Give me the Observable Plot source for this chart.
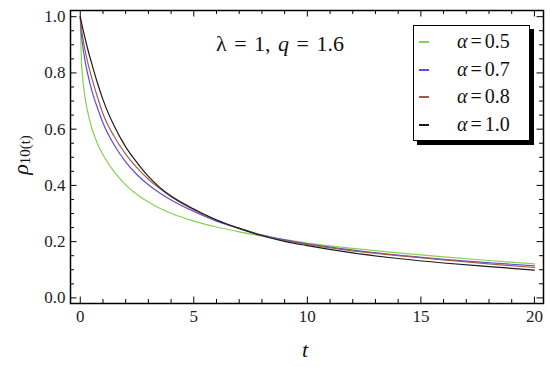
<!DOCTYPE html>
<html><head><meta charset="utf-8">
<script src="https://cdn.jsdelivr.net/npm/d3@7"></script>
<script src="https://cdn.jsdelivr.net/npm/@observablehq/plot@0.6"></script>
<style>
body{margin:0;background:#fff;}
#wrap{position:relative;width:550px;height:367px;font-family:"Liberation Serif","Times New Roman",serif;color:#111;}
#wrap svg{position:absolute;left:0;top:0;}
.ov{position:absolute;white-space:nowrap;line-height:1;}
#legend{position:absolute;left:413px;top:25px;width:115px;height:114px;border:1px solid #000;box-shadow:4px 4px 0 #000;background:#fff;}
.lrow{position:absolute;left:0;width:115px;height:24px;}
.lsw{position:absolute;left:5px;top:11px;width:10px;height:2px;}
.ltx{position:absolute;left:43px;top:1px;font-size:20px;line-height:1;}
#ylab{position:absolute;left:21px;top:155px;transform:translate(-50%,-50%) rotate(-90deg);white-space:nowrap;line-height:1;}
</style></head><body><div id="wrap"></div>
<script>
// ---- data ----
const tValues = [0, 0.05, 0.1, 0.2, 0.3, 0.5, 0.75, 1, 1.5, 2, 2.5, 3, 3.5, 4, 5, 6, 7, 8, 9, 10, 12, 14, 16, 18, 20];
const rhoAlpha05 = [1, 0.842, 0.787, 0.718, 0.672, 0.606, 0.550, 0.509, 0.448, 0.402, 0.368, 0.341, 0.319, 0.301, 0.273, 0.252, 0.235, 0.220, 0.207, 0.195, 0.176, 0.160, 0.146, 0.133, 0.121];
const rhoAlpha07 = [1, 0.937, 0.902, 0.848, 0.806, 0.740, 0.677, 0.622, 0.543, 0.484, 0.438, 0.402, 0.373, 0.348, 0.307, 0.273, 0.247, 0.224, 0.206, 0.192, 0.170, 0.152, 0.137, 0.125, 0.114];
const rhoAlpha08 = [1, 0.960, 0.931, 0.885, 0.847, 0.784, 0.716, 0.655, 0.573, 0.511, 0.462, 0.422, 0.389, 0.360, 0.313, 0.277, 0.247, 0.222, 0.204, 0.190, 0.167, 0.150, 0.135, 0.121, 0.108];
const rhoAlpha10 = [1, 0.981, 0.962, 0.927, 0.894, 0.835, 0.766, 0.705, 0.610, 0.537, 0.481, 0.432, 0.393, 0.362, 0.316, 0.277, 0.247, 0.221, 0.201, 0.186, 0.160, 0.140, 0.124, 0.111, 0.099];
const seriesLabels = ["α=0.5", "α=0.7", "α=0.8", "α=1.0"];
const seriesAlpha = ["0.5", "0.7", "0.8", "1.0"];
const seriesColors = ["#86d24e", "#5a4ce6", "#a65c4a", "#1c1c1c"];
const xTickValues = [0, 5, 10, 15, 20];
const xTickLabels = ["0", "5", "10", "15", "20"];
const yTickValues = [0, 0.2, 0.4, 0.6, 0.8, 1.0];
const yTickLabels = ["0.0", "0.2", "0.4", "0.6", "0.8", "1.0"];
const xMinorTicks = [1,2,3,4,6,7,8,9,11,12,13,14,16,17,18,19];
const yMinorTicks = [0.05,0.1,0.15,0.25,0.3,0.35,0.45,0.5,0.55,0.65,0.7,0.75,0.85,0.9,0.95];
const annotation = {lambda: "1", q: "1.6"};

// ---- build table ----
const seriesValues = [rhoAlpha05, rhoAlpha07, rhoAlpha08, rhoAlpha10];
const rows = [];
seriesValues.forEach((vals, s) => vals.forEach((v, i) => rows.push({t: tValues[i], rho: v, series: seriesLabels[s]})));

const W = 550, H = 367;
const mL = 70, mR = 7, mT = 10, mB = 64;
const xDom = [-0.43, 20.4], yDom = [-0.02, 1.022];
const kx = (W - mL - mR) / (xDom[1] - xDom[0]);
const ky = (H - mT - mB) / (yDom[1] - yDom[0]);
const majorLen = 6.5, minorLen = 4;

function xTicksMarks(vals, len) {
  return [
    Plot.ruleX(vals, {x: d => d, y1: yDom[0], y2: yDom[0] + len / ky, stroke: "#000", strokeWidth: 1}),
    Plot.ruleX(vals, {x: d => d, y1: yDom[1], y2: yDom[1] - len / ky, stroke: "#000", strokeWidth: 1})
  ];
}
function yTicksMarks(vals, len) {
  return [
    Plot.ruleY(vals, {y: d => d, x1: xDom[0], x2: xDom[0] + len / kx, stroke: "#000", strokeWidth: 1}),
    Plot.ruleY(vals, {y: d => d, x1: xDom[1], x2: xDom[1] - len / kx, stroke: "#000", strokeWidth: 1})
  ];
}
const xLab = new Map(xTickValues.map((v, i) => [v, xTickLabels[i]]));
const yLab = new Map(yTickValues.map((v, i) => [v, yTickLabels[i]]));

const chart = Plot.plot({
  width: W, height: H,
  marginLeft: mL, marginRight: mR, marginTop: mT, marginBottom: mB,
  style: {fontFamily: '"Liberation Serif","Times New Roman",serif', background: "transparent", color: "#222"},
  x: {domain: xDom, label: null},
  y: {domain: yDom, label: null},
  color: {domain: seriesLabels, range: seriesColors},
  marks: [
    Plot.line(rows, {x: "t", y: "rho", stroke: "series", z: "series", strokeWidth: 1.2, curve: "monotone-x"}),
    ...xTicksMarks(xTickValues, majorLen),
    ...xTicksMarks(xMinorTicks, minorLen),
    ...yTicksMarks(yTickValues, majorLen),
    ...yTicksMarks(yMinorTicks, minorLen),
    Plot.frame({stroke: "#000", strokeWidth: 1.5}),
    Plot.axisX(xTickValues, {tickSize: 0, tickPadding: 6, fontSize: 17, tickFormat: d => xLab.get(d), label: null}),
    Plot.axisY(yTickValues, {tickSize: 0, tickPadding: 5, fontSize: 17, tickFormat: d => yLab.get(d), label: null})
  ]
});
const wrap = document.getElementById("wrap");
wrap.appendChild(chart);

// x-axis title
const xt = document.createElement("div");
xt.className = "ov";
xt.style.cssText = "left:302px;top:339px;font-size:22px;font-style:italic;";
xt.textContent = "t";
wrap.appendChild(xt);

// y-axis title
const yl = document.createElement("div");
yl.id = "ylab";
yl.innerHTML = '<span style="font-size:22px;font-style:italic">ρ</span><span style="font-size:15px;position:relative;top:2px">10(t)</span>';
wrap.appendChild(yl);

// annotation
const an = document.createElement("div");
an.className = "ov";
an.style.cssText = "left:216px;top:33px;font-size:22px;word-spacing:2px;";
an.innerHTML = 'λ = ' + annotation.lambda + ', <i>q</i> = ' + annotation.q;
wrap.appendChild(an);

// legend
const lg = document.createElement("div");
lg.id = "legend";
const rowTops = [4, 32, 59, 87];
seriesLabels.forEach((lab, i) => {
  const r = document.createElement("div");
  r.className = "lrow";
  r.style.top = rowTops[i] + "px";
  r.innerHTML = '<div class="lsw" style="background:' + seriesColors[i] + '"></div>' +
    '<div class="ltx"><i>α</i><span style="margin:0 3px">=</span>' + seriesAlpha[i] + '</div>';
  lg.appendChild(r);
});
wrap.appendChild(lg);
</script>
</body></html>
